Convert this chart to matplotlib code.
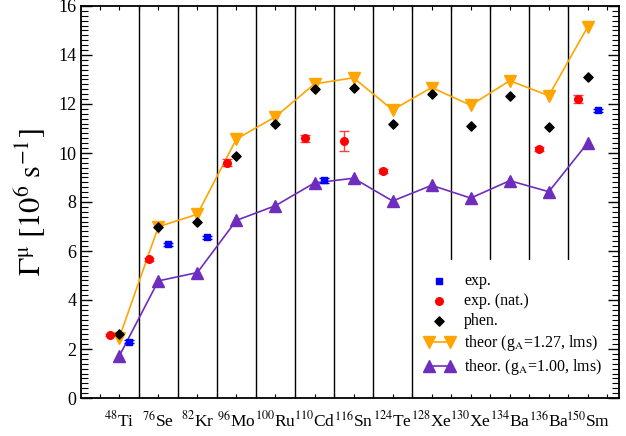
import matplotlib
matplotlib.use('Agg')
import matplotlib.pyplot as plt
from matplotlib.patches import Rectangle
from matplotlib.ticker import MultipleLocator

plt.rcParams['font.family'] = ['Liberation Serif', 'DejaVu Serif']
plt.rcParams['mathtext.fontset'] = 'stix'

# nuclei along the x axis
masses = [48, 76, 82, 96, 100, 110, 116, 124, 128, 130, 134, 136, 150]
elements = ['Ti', 'Se', 'Kr', 'Mo', 'Ru', 'Cd', 'Sn', 'Te', 'Xe', 'Xe', 'Ba', 'Ba', 'Sm']

# theoretical capture rates [10^6 s^-1]
theor_127 = [2.46, 6.99, 7.50, 10.57, 11.48, 12.82, 13.07, 11.76, 12.67, 11.95, 12.95, 12.34, 15.16]
theor_100 = [1.71, 4.78, 5.12, 7.25, 7.85, 8.78, 8.97, 8.04, 8.68, 8.16, 8.87, 8.42, 10.42]
phen = [2.60, 6.99, 7.20, 9.89, 11.20, 12.60, 12.67, 11.17, 12.40, 11.10, 12.34, 11.06, 13.12]

# measured (isotope-enriched targets)
exp_idx = [0, 1, 2, 5, 12]
exp_val = [2.30, 6.27, 6.56, 8.89, 11.74]
exp_err = [0.05, 0.05, 0.05, 0.10, 0.05]

# measured (natural targets)
nat_idx = [0, 1, 3, 5, 6, 7, 11, 12]
nat_val = [2.57, 5.66, 9.60, 10.60, 10.50, 9.27, 10.16, 12.20]
nat_err = [0.05, 0.06, 0.15, 0.15, 0.40, 0.08, 0.08, 0.15]

orange = '#FFA500'
purple = '#6F2DBD'

x = list(range(len(masses)))
labels = [r'$^{%d}$%s' % (m, e) for m, e in zip(masses, elements)]

fig = plt.figure(figsize=(6.26, 4.36), dpi=100)
ax = fig.add_axes([81 / 626, 1 - 398 / 436, 537.7 / 626, 392 / 436])

for i in range(len(masses) - 1):
    ax.axvline(i + 0.5, color='black', lw=1.0, zorder=1)

# white block behind the legend hides the separators there (spines stay on top)
ax.add_patch(Rectangle((0.627, 0), 0.373, 0.352, transform=ax.transAxes,
                       facecolor='white', edgecolor='none', zorder=1.5))

ax.plot(x, theor_127, color=orange, lw=1.2, marker='v', ms=8.5, zorder=3,
        label=r'theor (g$_{\rm A}$=1.27, lms)')
ax.plot(x, theor_100, color=purple, lw=1.2, marker='^', ms=8.5, zorder=3,
        label=r'theor. (g$_{\rm A}$=1.00, lms)')

ax.scatter(x, phen, marker='D', s=22, color='black', zorder=4, label='phen.')

xe = [i + 0.25 for i in exp_idx]
ax.errorbar(xe, exp_val, yerr=exp_err, fmt='none', ecolor='blue', elinewidth=1,
            capsize=3.5, zorder=4)
ax.scatter(xe, exp_val, marker='s', s=24, color='blue', zorder=5, label='exp.')

xn = [i - 0.25 for i in nat_idx]
ax.errorbar(xn, nat_val, yerr=nat_err, fmt='none', ecolor='#FF4040', elinewidth=1,
            capsize=3.5, zorder=4)
ax.scatter(xn, nat_val, marker='o', s=30, color='red', zorder=5, label='exp. (nat.)')

ax.set_xlim(-0.98, 12.79)
ax.set_ylim(0, 16)
ax.set_xticks(x)
ax.set_xticklabels(labels, fontsize=12.5)
ax.xaxis.set_minor_locator(MultipleLocator(0.5))
ax.yaxis.set_major_locator(MultipleLocator(2))
ax.yaxis.set_minor_locator(MultipleLocator(0.2))
ax.tick_params(axis='y', which='both', direction='in', left=True, right=True, labelsize=13)
ax.tick_params(axis='y', which='major', length=8, width=1)
ax.tick_params(axis='y', which='minor', length=5, width=0.8)
ax.tick_params(axis='x', which='both', direction='in', top=True, bottom=True, length=3, width=0.8)
ax.tick_params(axis='x', which='major', pad=9)
for s in ax.spines.values():
    s.set_linewidth(1.3)

ax.set_ylabel(r'$\Gamma^{\mathrm{\mu}}\ [10^{6}\ \mathrm{s}^{-1}]$', fontsize=22)
ax.yaxis.set_label_coords(-0.062, 0.5)

h, l = ax.get_legend_handles_labels()
order = [l.index(n) for n in ['exp.', 'exp. (nat.)', 'phen.']] + [0, 1]
leg = ax.legend([h[k] for k in order], [l[k] for k in order], loc='upper left',
                bbox_to_anchor=(0.638, 0.318), fontsize=11.5, numpoints=2, scatterpoints=1,
                frameon=False, borderpad=0, borderaxespad=0,
                handlelength=1.9, handletextpad=0.6, labelspacing=0.25)
leg.set_zorder(6)

fig.savefig('out.png', dpi=100)
